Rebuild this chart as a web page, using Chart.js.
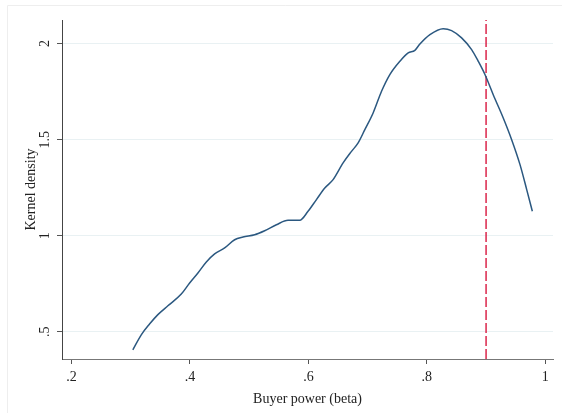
<!DOCTYPE html>
<html>
<head>
<meta charset="utf-8">
<script src="https://cdn.jsdelivr.net/npm/chart.js@4.4.1/dist/chart.umd.min.js"></script>
<style>
  html, body { margin: 0; padding: 0; background: #ffffff; }
  #wrap { width: 562px; height: 413px; }
</style>
</head>
<body>
<div id="wrap"><canvas id="c" width="562" height="413"></canvas></div>
<script>
// Kernel density estimate of buyer power (beta)
const betaGrid = [
  0.3036, 0.3178, 0.3318, 0.3459, 0.3628, 0.3854, 0.3995, 0.4135, 0.4277, 0.4417,
  0.4586, 0.4755, 0.4896, 0.5093, 0.5262, 0.5460, 0.5656, 0.5854, 0.5994, 0.6136,
  0.6277, 0.6417, 0.6586, 0.6728, 0.6840, 0.6953, 0.7093, 0.7235, 0.7375, 0.7544,
  0.7685, 0.7798, 0.7883, 0.8052, 0.8276, 0.8418, 0.8587, 0.8756, 0.8868, 0.8981,
  0.9121, 0.9290, 0.9432, 0.9573, 0.9686, 0.9781
];
const densityValues = [
  0.406, 0.484, 0.540, 0.589, 0.635, 0.696, 0.754, 0.806, 0.863, 0.905,
  0.936, 0.979, 0.993, 1.005, 1.026, 1.057, 1.080, 1.080, 1.127, 1.188,
  1.248, 1.292, 1.379, 1.439, 1.483, 1.552, 1.639, 1.752, 1.839, 1.908,
  1.952, 1.965, 1.998, 2.047, 2.078, 2.068, 2.030, 1.969, 1.908, 1.839,
  1.734, 1.613, 1.500, 1.370, 1.240, 1.127
];

// Reference line position
const cutoffBeta = 0.9;

// Axis ticks and ranges
const xTickValues = [0.2, 0.4, 0.6, 0.8, 1];
const yTickValues = [0.5, 1, 1.5, 2];
const xRange = [0.184, 1.013];
const yRange = [0.358, 2.123];

const SERIF = "'Liberation Serif', 'Times New Roman', serif";
const densityColor = '#2b5880';
const cutoffColor = '#d8163e';
const gridColor = '#e9f1f3';
const axisColor = '#555555';

// Stata-style numbers: drop leading zero (0.2 -> .2)
function fmt(v) {
  const s = String(Math.round(v * 100) / 100);
  return s.startsWith('0.') ? s.slice(1) : s;
}

const densityPoints = betaGrid.map((x, i) => ({ x: x, y: densityValues[i] }));
const cutoffPoints = [{ x: cutoffBeta, y: yRange[0] }, { x: cutoffBeta, y: yRange[1] }];

// White background and faint outer frame of the graph region
const backgroundPlugin = {
  id: 'graphRegion',
  beforeDraw(chart) {
    const ctx = chart.ctx;
    ctx.save();
    ctx.fillStyle = '#ffffff';
    ctx.fillRect(0, 0, chart.width, chart.height);
    ctx.strokeStyle = '#eeeeee';
    ctx.lineWidth = 1;
    ctx.beginPath();
    ctx.moveTo(7.5, chart.height + 5);
    ctx.lineTo(7.5, 5.5);
    ctx.lineTo(chart.width + 5, 5.5);
    ctx.stroke();
    ctx.restore();
  }
};

// Vertical (rotated) tick labels on the y axis
const yLabelPlugin = {
  id: 'yRotatedLabels',
  afterDraw(chart) {
    const scale = chart.scales.y;
    const ctx = chart.ctx;
    ctx.save();
    ctx.fillStyle = '#222222';
    ctx.font = '14px ' + SERIF;
    ctx.textAlign = 'center';
    ctx.textBaseline = 'middle';
    scale.ticks.forEach(t => {
      const py = scale.getPixelForValue(t.value);
      ctx.save();
      ctx.translate(45.5, py);
      ctx.rotate(-Math.PI / 2);
      ctx.fillText(fmt(t.value), 0, 0);
      ctx.restore();
    });
    ctx.restore();
  }
};

new Chart(document.getElementById('c'), {
  type: 'line',
  data: {
    datasets: [
      {
        label: 'Kernel density',
        data: densityPoints,
        borderColor: densityColor,
        borderWidth: 1.5,
        pointRadius: 0,
        fill: false,
        cubicInterpolationMode: 'monotone'
      },
      {
        label: 'Cutoff',
        data: cutoffPoints,
        borderColor: cutoffColor,
        borderWidth: 1.4,
        borderDash: [10, 3],
        pointRadius: 0,
        fill: false
      }
    ]
  },
  options: {
    responsive: false,
    animation: false,
    devicePixelRatio: 1,
    layout: { padding: { top: 20, right: 9, left: 0, bottom: 0 } },
    plugins: {
      legend: { display: false },
      tooltip: { enabled: false }
    },
    scales: {
      x: {
        type: 'linear',
        min: xRange[0],
        max: xRange[1],
        afterBuildTicks: s => { s.ticks = xTickValues.map(v => ({ value: v })); },
        afterFit: s => { s.height = 54; },
        ticks: {
          callback: v => fmt(v),
          font: { family: SERIF, size: 14 },
          color: '#222222',
          padding: 5,
          maxRotation: 0,
          autoSkip: false
        },
        grid: {
          drawOnChartArea: false,
          drawTicks: true,
          tickLength: 5,
          tickColor: axisColor
        },
        border: { display: true, color: '#777777', width: 1 },
        title: {
          display: true,
          text: 'Buyer power (beta)',
          font: { family: SERIF, size: 14 },
          color: '#222222',
          padding: { top: 0, bottom: 5.6 }
        }
      },
      y: {
        type: 'linear',
        min: yRange[0],
        max: yRange[1],
        afterBuildTicks: s => { s.ticks = yTickValues.map(v => ({ value: v })); },
        afterFit: s => { s.width = 62; },
        ticks: { display: false },
        grid: {
          drawOnChartArea: true,
          color: gridColor,
          lineWidth: 1,
          drawTicks: true,
          tickLength: 5,
          tickColor: axisColor
        },
        border: { display: true, color: '#444444', width: 1 },
        title: {
          display: true,
          text: 'Kernel density',
          font: { family: SERIF, size: 14 },
          color: '#222222',
          padding: { top: 23.3, bottom: 0 }
        }
      }
    }
  },
  plugins: [backgroundPlugin, yLabelPlugin]
});
</script>
</body>
</html>
